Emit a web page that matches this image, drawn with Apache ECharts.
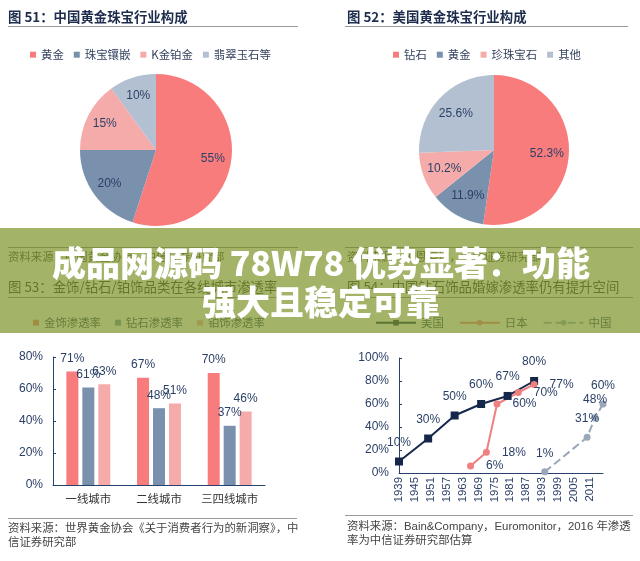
<!DOCTYPE html>
<html>
<head>
<meta charset="utf-8">
<script src="https://cdn.jsdelivr.net/npm/echarts@6/dist/echarts.min.js"></script>
<style>
html,body{margin:0;padding:0;background:#fff;}
#chart{width:640px;height:561px;}
</style>
</head>
<body>
<div id="chart"></div>
<script>
// ---- data ----
const pie1Title = '图 51：中国黄金珠宝行业构成';
const pie1Names = ['黄金', '珠宝镶嵌', 'K金铂金', '翡翠玉石等'];
const pie1Values = [55, 20, 15, 10];

const pie2Title = '图 52：美国黄金珠宝行业构成';
const pie2Names = ['钻石', '黄金', '珍珠宝石', '其他'];
const pie2Values = [52.3, 11.9, 10.2, 25.6];

const barTitle = '图 53：金饰/钻石/铂饰品类在各线城市渗透率';
const barCategories = ['一线城市', '二线城市', '三四线城市'];
const barSeriesNames = ['金饰渗透率', '钻石渗透率', '铂饰渗透率'];
const goldRate = [71, 67, 70];
const diamondRate = [61, 48, 37];
const platinumRate = [63, 51, 46];
const barYTicks = [0, 80, 20]; // min, max, interval

const lineTitle = '图 54：中国钻石饰品婚嫁渗透率仍有提升空间';
const lineSeriesNames = ['美国', '日本', '中国'];
const firstYear = 1939, lastYear = 2016;
const usYears = [1939, 1950, 1960, 1970, 1980, 1990];
const usValues = [10, 30, 50, 60, 67, 80];
const jpYears = [1966, 1972, 1976, 1984, 1990];
const jpValues = [6, 18, 60, 70, 77];
const cnYears = [1994, 2010, 2013, 2016];
const cnValues = [1, 31, 48, 60];

const source1 = '资料来源：中国黄金协会，中信证券研究部';
const source2 = '资料来源：贝恩咨询，中信证券研究部';
const source3a = '资料来源：世界黄金协会《关于消费者行为的新洞察》，中';
const source3b = '信证券研究部';
const source4a = '资料来源：Bain&Company，Euromonitor，2016 年渗透';
const source4b = '率为中信证券研究部估算';
const bannerLine1 = '成品网源码 78W78 优势显著：功能';
const bannerLine2 = '强大且稳定可靠';

// ---- styles ----
const RED = '#f87c7c', BLUE = '#7a91ae', PINK = '#f6abab', GRAY = '#b3c0d1';
const NAVY = '#26416b', LABEL = '#2a3f66', US_COLOR = '#15284b', JP_COLOR = '#f07f80', CN_COLOR = '#9aa7b9';
const CJK = '"Noto Sans CJK SC", sans-serif';
const LAT = '"Liberation Sans", Arial, "Noto Sans CJK SC", sans-serif';

const yearCats = [];
for (let y = firstYear; y <= lastYear; y++) yearCats.push(String(y));
const pairs = (ys, vs) => ys.map((y, i) => [String(y), vs[i]]);

const chart = echarts.init(document.getElementById('chart'), null, {renderer: 'canvas'});

function txt(x, y, text, font, fill, align, z) {
  return {type: 'text', x: x, y: y, z: z || 1, silent: true,
    style: {text: text, font: font, fill: fill, textAlign: align || 'left', textVerticalAlign: 'middle'}};
}
function hline(x1, x2, y, color, z) {
  return {type: 'line', z: z || 1, silent: true, shape: {x1: x1, y1: y + 0.5, x2: x2, y2: y + 0.5},
    style: {stroke: color, lineWidth: 1}};
}

const titleFont = 'bold 13.4px ' + CJK;
const smallFont = '11.4px ' + LAT;

const graphics = [
  txt(8, 17, pie1Title, titleFont, '#1e2d4d'),
  hline(8, 298, 26, '#9a9a9a'),
  txt(347, 17, pie2Title, titleFont, '#1e2d4d'),
  hline(345, 628, 26, '#9a9a9a'),
  // content under banner
  hline(8, 298, 247, '#888'),
  hline(345, 633, 247, '#888'),
  txt(8, 258, source1, smallFont, '#444'),
  txt(347, 258, source2, smallFont, '#444'),
  txt(8, 287, barTitle, '13.4px ' + CJK, '#333'),
  txt(347, 287, lineTitle, '13.4px ' + CJK, '#333'),
  hline(8, 298, 297, '#888'),
  hline(345, 633, 297, '#888'),
  // banner overlay
  {type: 'rect', z: 10, silent: true, shape: {x: 0, y: 228, width: 640, height: 105},
    style: {fill: 'rgba(124,148,42,0.7)'}},
  {type: 'text', x: 321, y: 263, z: 11, silent: true,
    style: {text: bannerLine1, font: '900 34px ' + CJK, fill: '#fff', textAlign: 'center', textVerticalAlign: 'middle'}},
  {type: 'text', x: 321, y: 302, z: 11, silent: true,
    style: {text: bannerLine2, font: '900 34px ' + CJK, fill: '#fff', textAlign: 'center', textVerticalAlign: 'middle'}},
  // bottom sources
  hline(8, 297, 518, '#9a9a9a'),
  txt(8, 529, source3a, smallFont, '#444'),
  txt(8, 543, source3b, smallFont, '#444'),
  hline(345, 633, 515, '#9a9a9a'),
  txt(347, 527, source4a, smallFont, '#444'),
  txt(347, 541, source4b, smallFont, '#444')
];

const pieColors = [RED, BLUE, PINK, GRAY];
const pie1Data = pie1Names.map((n, i) => ({name: n, value: pie1Values[i], itemStyle: {color: pieColors[i]}}));
const pie2Data = pie2Names.map((n, i) => ({name: n, value: pie2Values[i], itemStyle: {color: pieColors[i]}}));

function mainPie(center, r, data) {
  return {type: 'pie', center: center, radius: [0, r], startAngle: 90, clockwise: true,
    data: data, label: {show: false}, labelLine: {show: false}, emphasis: {disabled: true}, silent: true, animation: false};
}
function labelPie(center, r0, r, data) {
  return {type: 'pie', center: center, radius: [r0, r], startAngle: 90, clockwise: true,
    data: data.map(d => ({name: d.name, value: d.value})),
    itemStyle: {color: 'rgba(0,0,0,0)', borderWidth: 0},
    label: {show: true, position: 'inside', formatter: '{c}%', color: LABEL, fontSize: 12, fontFamily: LAT},
    labelLine: {show: false}, emphasis: {disabled: true}, silent: true, animation: false, legendHoverLink: false};
}

const legendText = {color: '#33415e', fontSize: 11.4, fontFamily: CJK};
const lineLabel = (pos, dist) => ({show: true, position: pos, distance: dist,
  formatter: p => p.value[1] + '%', color: LABEL, fontSize: 12, fontFamily: LAT});

const option = {
  animation: false,
  backgroundColor: '#fff',
  legend: [
    {left: 30, top: 49, padding: 0, itemWidth: 6, itemHeight: 6, itemGap: 10, icon: 'rect', textStyle: legendText,
      selectedMode: false,
      data: pie1Names.map((n, i) => ({name: n, itemStyle: {color: pieColors[i]}}))},
    {left: 393, top: 49, padding: 0, itemWidth: 6, itemHeight: 6, itemGap: 10, icon: 'rect', textStyle: legendText,
      selectedMode: false,
      data: pie2Names.map((n, i) => ({name: n, itemStyle: {color: pieColors[i]}}))},
    {left: 33, top: 317, padding: 0, itemWidth: 6, itemHeight: 6, itemGap: 14, icon: 'rect', textStyle: legendText,
      selectedMode: false, data: barSeriesNames},
    {left: 375, top: 317, padding: 0, itemWidth: 40, itemHeight: 7, itemGap: 15, textStyle: legendText,
      selectedMode: false, data: lineSeriesNames}
  ],
  grid: [
    {left: 53, top: 357, width: 212, height: 128},
    {left: 399, top: 358, width: 204, height: 115}
  ],
  xAxis: [
    {gridIndex: 0, type: 'category', data: barCategories,
      axisLine: {lineStyle: {color: NAVY, width: 1}}, axisTick: {show: false},
      axisLabel: {interval: 0, color: '#333', fontSize: 11.4, fontFamily: CJK, margin: 8}},
    {gridIndex: 1, type: 'category', data: yearCats, boundaryGap: false,
      axisLine: {lineStyle: {color: NAVY, width: 1}}, axisTick: {show: false},
      axisLabel: {interval: 5, rotate: 90, color: LABEL, fontSize: 11.4, fontFamily: LAT, margin: 4}}
  ],
  yAxis: [
    {gridIndex: 0, type: 'value', min: barYTicks[0], max: barYTicks[1], interval: barYTicks[2],
      splitLine: {show: false},
      axisLine: {show: true, lineStyle: {color: NAVY, width: 1}},
      axisTick: {show: true, inside: true, length: 3, lineStyle: {color: NAVY}},
      axisLabel: {formatter: '{value}%', color: LABEL, fontSize: 12, fontFamily: LAT, margin: 10}},
    {gridIndex: 1, type: 'value', min: 0, max: 100, interval: 20,
      splitLine: {show: false},
      axisLine: {show: true, lineStyle: {color: NAVY, width: 1}},
      axisTick: {show: true, inside: true, length: 3, lineStyle: {color: NAVY}},
      axisLabel: {formatter: '{value}%', color: LABEL, fontSize: 12, fontFamily: LAT, margin: 10}}
  ],
  graphic: {elements: graphics},
  series: [
    mainPie([156, 150], 76, pie1Data),
    labelPie([156, 150], 33, 76, pie1Data),
    mainPie([494, 150], 75, pie2Data),
    labelPie([494, 150], 25, 75, pie2Data),
    ...[goldRate, diamondRate, platinumRate].map((vals, i) => ({
      type: 'bar', name: barSeriesNames[i], xAxisIndex: 0, yAxisIndex: 0, data: vals,
      barWidth: 12, barGap: '33%', itemStyle: {color: [RED, BLUE, PINK][i]},
      label: {show: true, position: 'top', distance: 7, formatter: '{c}%', color: LABEL, fontSize: 12, fontFamily: LAT},
      silent: true
    })),
    {type: 'line', name: lineSeriesNames[0], xAxisIndex: 1, yAxisIndex: 1, data: pairs(usYears, usValues),
      color: US_COLOR, lineStyle: {color: US_COLOR, width: 2}, symbol: 'rect', symbolSize: 8,
      showSymbol: true, showAllSymbol: true, itemStyle: {color: US_COLOR},
      label: lineLabel('top', 9), labelLayout: {hideOverlap: false}, silent: true},
    {type: 'line', name: lineSeriesNames[1], xAxisIndex: 1, yAxisIndex: 1, data: pairs(jpYears, jpValues),
      color: JP_COLOR, lineStyle: {color: JP_COLOR, width: 2}, symbol: 'circle', symbolSize: 7,
      showSymbol: true, showAllSymbol: true, itemStyle: {color: JP_COLOR},
      label: lineLabel('right', 12), labelLayout: {hideOverlap: false}, silent: true},
    {type: 'line', name: lineSeriesNames[2], xAxisIndex: 1, yAxisIndex: 1, data: pairs(cnYears, cnValues),
      color: CN_COLOR, lineStyle: {color: CN_COLOR, width: 2, type: 'dashed'}, symbol: 'circle', symbolSize: 7,
      showSymbol: true, showAllSymbol: true, itemStyle: {color: CN_COLOR},
      label: lineLabel('top', 9), labelLayout: {hideOverlap: false}, silent: true}
  ]
};
chart.setOption(option);
</script>
</body>
</html>
